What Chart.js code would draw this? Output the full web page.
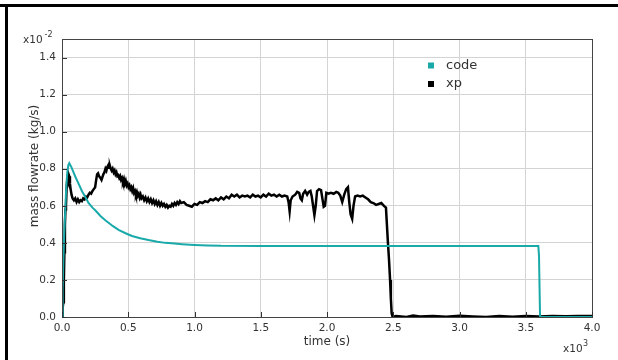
<!DOCTYPE html>
<html>
<head>
<meta charset="utf-8">
<script src="https://cdn.jsdelivr.net/npm/chart.js@4/dist/chart.umd.min.js"></script>
<style>
  html, body { margin: 0; padding: 0; background: #fff; }
  #wrap { position: relative; width: 618px; height: 360px; }
  canvas { display: block; }
</style>
</head>
<body>
<div id="wrap"><canvas id="c" width="618" height="360"></canvas></div>
<script>
// ---- data (mass flowrate in units of 1e-2 kg/s, time in s) ----
const xTickValues = [0, 500, 1000, 1500, 2000, 2500, 3000, 3500, 4000];
const yTickValues = [0, 0.2, 0.4, 0.6, 0.8, 1.0, 1.2, 1.4];
const seriesNames = ["code", "xp"];

const codeTime = [0, 5, 10, 17, 25, 32, 40, 48, 55, 70, 87, 105, 125, 150, 176, 200, 230, 251, 290, 327, 385, 430, 480, 528, 590, 653, 720, 779, 850, 905, 1000, 1100, 1200, 1500, 3595, 3600, 3608, 4000];
const codeValue = [0, 0.15, 0.3, 0.45, 0.58, 0.7, 0.78, 0.82, 0.83, 0.81, 0.78, 0.75, 0.72, 0.68, 0.647, 0.615, 0.59, 0.576, 0.545, 0.522, 0.49, 0.469, 0.452, 0.437, 0.425, 0.415, 0.406, 0.4, 0.396, 0.393, 0.389, 0.386, 0.384, 0.383, 0.383, 0.33, 0.0, 0.0];

const xpTime = [0, 5, 10, 14, 18, 22, 26, 30, 35, 40, 45, 50, 55, 60, 65, 72, 80, 90, 100, 110, 120, 130, 140, 150, 160, 170, 180, 190, 200, 210, 220, 230, 240, 250, 258, 265, 272, 280, 290, 298, 305, 312, 320, 328, 335, 342, 350, 356, 362, 368, 375, 382, 390, 397, 404, 411, 418, 425, 432, 439, 446, 453, 460, 467, 474, 481, 488, 495, 502, 509, 516, 523, 530, 537, 544, 551, 558, 565, 572, 579, 586, 593, 600, 610, 620, 630, 640, 650, 660, 670, 680, 690, 700, 710, 720, 730, 740, 750, 760, 770, 780, 790, 800, 810, 820, 830, 840, 850, 860, 870, 880, 890, 900, 920, 940, 960, 980, 1000, 1020, 1040, 1060, 1080, 1100, 1120, 1140, 1160, 1180, 1200, 1220, 1240, 1260, 1280, 1300, 1320, 1340, 1360, 1380, 1400, 1420, 1440, 1460, 1480, 1500, 1520, 1540, 1560, 1580, 1600, 1620, 1640, 1660, 1680, 1700, 1710, 1718, 1726, 1740, 1760, 1775, 1790, 1800, 1810, 1820, 1835, 1850, 1862, 1875, 1885, 1895, 1905, 1915, 1925, 1940, 1955, 1965, 1975, 1985, 1995, 2010, 2030, 2050, 2070, 2085, 2100, 2115, 2130, 2145, 2158, 2168, 2178, 2190, 2200, 2212, 2230, 2250, 2270, 2290, 2310, 2330, 2350, 2370, 2390, 2410, 2430, 2445, 2452, 2460, 2468, 2476, 2482, 2488, 2495, 2520, 2600, 2650, 2700, 2800, 2900, 3000, 3100, 3200, 3300, 3400, 3500, 3600, 3700, 3800, 3900, 4000];
const xpValue = [0.0, 0.05, 0.08, 0.2, 0.35, 0.5, 0.58, 0.6, 0.7, 0.74, 0.73, 0.77, 0.76, 0.72, 0.69, 0.66, 0.64, 0.63, 0.64, 0.62, 0.635, 0.62, 0.63, 0.625, 0.64, 0.635, 0.65, 0.645, 0.66, 0.67, 0.665, 0.68, 0.69, 0.7, 0.74, 0.77, 0.775, 0.76, 0.75, 0.74, 0.755, 0.77, 0.78, 0.8, 0.79, 0.81, 0.82, 0.805, 0.815, 0.8, 0.79, 0.8, 0.78, 0.79, 0.77, 0.78, 0.76, 0.765, 0.75, 0.76, 0.74, 0.75, 0.73, 0.745, 0.72, 0.735, 0.71, 0.72, 0.7, 0.71, 0.69, 0.7, 0.68, 0.695, 0.67, 0.68, 0.66, 0.675, 0.655, 0.665, 0.645, 0.66, 0.64, 0.65, 0.63, 0.645, 0.625, 0.64, 0.62, 0.635, 0.615, 0.63, 0.61, 0.625, 0.605, 0.62, 0.6, 0.615, 0.6, 0.61, 0.595, 0.605, 0.59, 0.6, 0.595, 0.61, 0.6, 0.615, 0.605, 0.62, 0.61, 0.625, 0.615, 0.62, 0.605, 0.6, 0.595, 0.61, 0.605, 0.62, 0.615, 0.625, 0.62, 0.635, 0.63, 0.64, 0.63, 0.645, 0.635, 0.65, 0.64, 0.66, 0.65, 0.66, 0.645, 0.655, 0.65, 0.655, 0.645, 0.66, 0.65, 0.655, 0.645, 0.66, 0.65, 0.665, 0.655, 0.66, 0.65, 0.66, 0.65, 0.655, 0.65, 0.62, 0.57, 0.63, 0.65, 0.66, 0.675, 0.67, 0.64, 0.63, 0.665, 0.68, 0.66, 0.675, 0.68, 0.65, 0.6, 0.55, 0.6, 0.68, 0.69, 0.685, 0.64, 0.595, 0.6, 0.67, 0.665, 0.67, 0.665, 0.675, 0.67, 0.655, 0.62, 0.66, 0.69, 0.7, 0.62, 0.555, 0.53, 0.6, 0.65, 0.655, 0.65, 0.655, 0.645, 0.635, 0.62, 0.615, 0.605, 0.61, 0.615, 0.6, 0.59, 0.5, 0.4, 0.31, 0.2, 0.1, 0.02, 0.0, 0.005, 0.0, 0.008, 0.003, 0.006, 0.002, 0.007, 0.003, 0.0, 0.005, 0.002, 0.006, 0.003, 0.006, 0.004, 0.006, 0.005];

const codeColor = "#1aa9a9";
const xpColor = "#000000";
const textColor = "#333333";
const FONT = "'DejaVu Sans', sans-serif";

function pts(tArr, vArr) { return tArr.map((t, i) => ({ x: t, y: vArr[i] })); }

const decorPlugin = {
  id: "decor",
  afterDraw(chart) {
    const ctx = chart.ctx;
    const a = chart.chartArea;
    const xs = chart.scales.x, ys = chart.scales.y;
    ctx.save();
    // plot frame
    ctx.strokeStyle = "#444";
    ctx.lineWidth = 1;
    ctx.strokeRect(Math.round(a.left) + 0.5, Math.round(a.top) + 0.5, Math.round(a.right - a.left), Math.round(a.bottom - a.top));
    // inward tick marks
    ctx.strokeStyle = "#333";
    ctx.beginPath();
    yTickValues.forEach(v => {
      const y = Math.round(ys.getPixelForValue(v)) + 0.5;
      ctx.moveTo(a.left, y); ctx.lineTo(a.left + 5, y);
    });
    xTickValues.forEach(v => {
      const x = Math.round(xs.getPixelForValue(v)) + 0.5;
      ctx.moveTo(x, a.bottom); ctx.lineTo(x, a.bottom - 5);
    });
    ctx.stroke();

    // legend
    const ds = chart.data.datasets;
    ctx.font = "13px " + FONT;
    ctx.textBaseline = "middle";
    ctx.textAlign = "left";
    const legY = [65.5, 84];
    ds.forEach((d, i) => {
      ctx.fillStyle = d.borderColor;
      ctx.fillRect(428, legY[i] - 3, 6, 6);
      ctx.fillStyle = textColor;
      ctx.fillText(d.label, 446, legY[i]);
    });

    // axis titles
    ctx.fillStyle = textColor;
    ctx.font = "12px " + FONT;
    ctx.textAlign = "center";
    ctx.fillText("time (s)", (a.left + a.right) / 2, 342);
    ctx.save();
    ctx.translate(35, 166);
    ctx.rotate(-Math.PI / 2);
    ctx.fillText("mass flowrate (kg/s)", 0, 0);
    ctx.restore();

    // exponent labels
    ctx.font = "10.5px " + FONT;
    ctx.textAlign = "left";
    ctx.textBaseline = "alphabetic";
    ctx.fillText("x10", 23, 43);
    ctx.font = "8px " + FONT;
    ctx.fillText("-2", 44.5, 37);
    ctx.font = "10.5px " + FONT;
    ctx.fillText("x10", 563, 352);
    ctx.font = "8px " + FONT;
    ctx.fillText("3", 583, 346);

    // outer frame
    ctx.fillStyle = "#000";
    ctx.fillRect(0, 4, 618, 3);
    ctx.fillRect(5, 4, 3, 356);
    ctx.restore();
  }
};

new Chart(document.getElementById("c"), {
  type: "line",
  data: {
    datasets: [
      { label: seriesNames[0], data: pts(codeTime, codeValue), borderColor: codeColor, backgroundColor: codeColor, borderWidth: 2, pointRadius: 0, tension: 0, order: 0 },
      { label: seriesNames[1], data: pts(xpTime, xpValue), borderColor: xpColor, backgroundColor: xpColor, borderWidth: 2.5, pointRadius: 0, tension: 0, order: 1 }
    ]
  },
  options: {
    responsive: false,
    animation: false,
    devicePixelRatio: 1,
    layout: { padding: { top: 39, right: 26, left: 0, bottom: 0 } },
    plugins: { legend: { display: false }, tooltip: { enabled: false } },
    scales: {
      x: {
        type: "linear", min: 0, max: 4000,
        afterBuildTicks: s => { s.ticks = xTickValues.map(v => ({ value: v })); },
        afterFit: s => { s.height = 43; },
        ticks: { callback: v => (v / 1000).toFixed(1), font: { family: FONT, size: 10.5 }, color: textColor, padding: 5, maxRotation: 0, autoSkip: false },
        grid: { color: "#d4d4d4", lineWidth: 1, drawTicks: false },
        border: { display: true, color: "#333", width: 1 }
      },
      y: {
        type: "linear", min: 0, max: 1.5,
        afterBuildTicks: s => { s.ticks = yTickValues.map(v => ({ value: v })); },
        afterFit: s => { s.width = 62; },
        ticks: { callback: v => v.toFixed(1), font: { family: FONT, size: 10.5 }, color: textColor, padding: 6 },
        grid: { color: "#d4d4d4", lineWidth: 1, drawTicks: false },
        border: { display: true, color: "#333", width: 1 }
      }
    }
  },
  plugins: [decorPlugin]
});
</script>
</body>
</html>
